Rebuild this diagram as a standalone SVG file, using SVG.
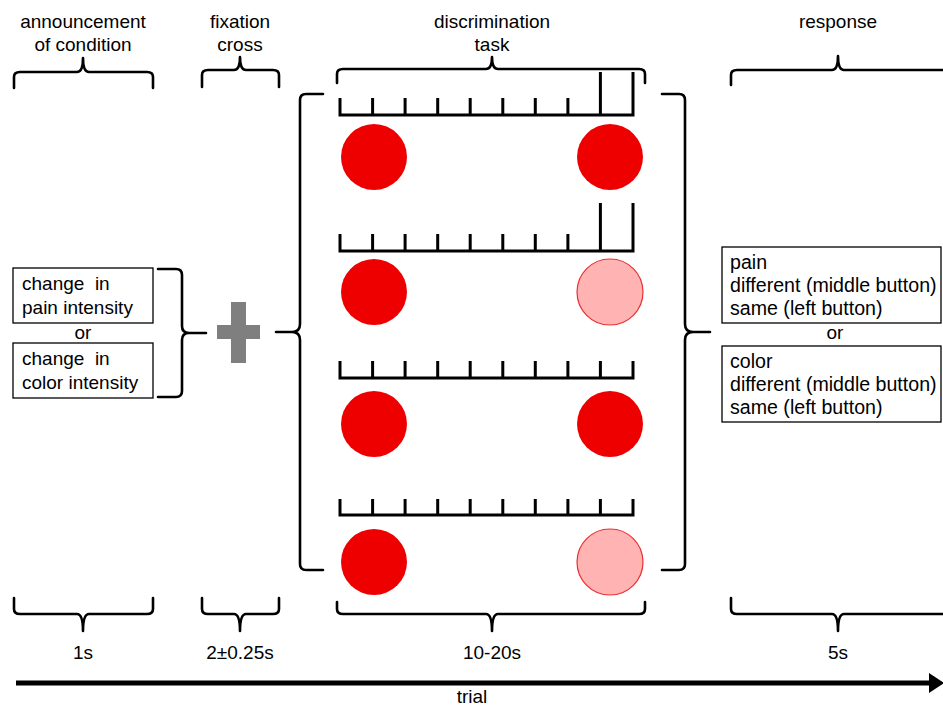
<svg xmlns="http://www.w3.org/2000/svg" width="943" height="706" viewBox="0 0 943 706">
<style>
.t{font-family:"Liberation Sans",Arial,sans-serif;font-size:19px;fill:#000}
.r{font-size:19.6px}
.m{text-anchor:middle}
.br{fill:none;stroke:#000;stroke-width:2.6;stroke-linecap:round;stroke-linejoin:round}
.ru{fill:none;stroke:#000;stroke-width:3;stroke-linecap:butt;stroke-linejoin:miter}
.box{fill:#fff;stroke:#000;stroke-width:1.3}
.dk{fill:#ee0000}
.lt{fill:#ffb3b3;stroke:#e83030;stroke-width:1.2}
</style>
<defs>
<marker id="ah" markerWidth="4" markerHeight="4" refX="0" refY="2" orient="auto" markerUnits="strokeWidth">
<path d="M0,0 L3,2 L0,4 Z" fill="#000"/>
</marker>
</defs>

<g id="labels-top">
<text class="t m" x="83" y="28">announcement</text>
<text class="t m" x="83" y="51">of condition</text>
<text class="t m" x="240" y="28">fixation</text>
<text class="t m" x="240" y="51">cross</text>
<text class="t m" x="492" y="28">discrimination</text>
<text class="t m" x="492" y="51">task</text>
<text class="t m" x="838" y="28">response</text>
</g>

<g id="brackets-top">
<path class="br" d="M14,88 V77 Q14,72 20,72 H77 Q83,72 83,58 Q83,72 89,72 H147 Q153,72 153,77 V88"/>
<path class="br" d="M202,87 V75 Q202,70 208,70 H234 Q240,70 240,57 Q240,70 246,70 H273 Q279,70 279,75 V87"/>
<path class="br" d="M337,83 V74 Q337,69 343,69 H486 Q492,69 492,57 Q492,69 498,69 H639 Q645,69 645,74 V83"/>
<path class="br" d="M731,85 V75 Q731,70 737,70 H832 Q838,70 838,56 Q838,70 844,70 H945"/>
</g>

<g id="brackets-bottom">
<path class="br" d="M14,598 V609 Q14,614 20,614 H77 Q83,614 83,631 Q83,614 89,614 H147 Q153,614 153,609 V598"/>
<path class="br" d="M202,598 V609 Q202,614 208,614 H234 Q240,614 240,631 Q240,614 246,614 H273 Q279,614 279,609 V598"/>
<path class="br" d="M337,602 V609 Q337,614 343,614 H486 Q492,614 492,631 Q492,614 498,614 H639 Q645,614 645,609 V602"/>
<path class="br" d="M731,598 V609 Q731,614 737,614 H832 Q838,614 838,631 Q838,614 844,614 H945"/>
</g>

<g id="labels-bottom">
<text class="t m" x="83" y="659">1s</text>
<text class="t m" x="240" y="659">2±0.25s</text>
<text class="t m" x="492" y="659">10-20s</text>
<text class="t m" x="838" y="659">5s</text>
<text class="t m" x="472" y="703">trial</text>
</g>

<g id="condition">
<rect class="box" x="13" y="268" width="140" height="55"/>
<text class="t" x="22" y="290" xml:space="preserve">change  in</text>
<text class="t" x="22" y="314">pain intensity</text>
<text class="t m" x="83" y="339">or</text>
<rect class="box" x="13" y="343" width="140" height="55"/>
<text class="t" x="22" y="365" xml:space="preserve">change  in</text>
<text class="t" x="22" y="389">color intensity</text>
</g>

<g id="fixation">
<rect x="217" y="325" width="43" height="14" fill="#7f7f7f"/>
<rect x="231" y="302" width="15" height="61" fill="#7f7f7f"/>
</g>

<g id="task">
<path class="ru" d="M340,98 V115 H633 V72 M372.6,98 V115 M405.1,98 V115 M437.7,98 V115 M470.2,98 V115 M502.8,98 V115 M535.3,98 V115 M567.9,98 V115 M600.4,72 V115"/>
<circle class="dk" cx="374" cy="157" r="33"/>
<circle class="dk" cx="610" cy="157" r="33"/>
<path class="ru" d="M340,234 V251 H633 V203 M372.6,234 V251 M405.1,234 V251 M437.7,234 V251 M470.2,234 V251 M502.8,234 V251 M535.3,234 V251 M567.9,234 V251 M600.4,203 V251"/>
<circle class="dk" cx="374" cy="292" r="33"/>
<circle class="lt" cx="610" cy="292" r="33"/>
<path class="ru" d="M340,361 V378 H633 V361 M372.6,361 V378 M405.1,361 V378 M437.7,361 V378 M470.2,361 V378 M502.8,361 V378 M535.3,361 V378 M567.9,361 V378 M600.4,361 V378"/>
<circle class="dk" cx="374" cy="424" r="33"/>
<circle class="dk" cx="610" cy="424" r="33"/>
<path class="ru" d="M340,499 V515 H633 V499 M372.6,499 V515 M405.1,499 V515 M437.7,499 V515 M470.2,499 V515 M502.8,499 V515 M535.3,499 V515 M567.9,499 V515 M600.4,499 V515"/>
<circle class="dk" cx="374" cy="562" r="33"/>
<circle class="lt" cx="610" cy="562" r="33"/>
</g>

<g id="response">
<rect class="box" x="722" y="247" width="219" height="76"/>
<text class="t r" x="730" y="269">pain</text>
<text class="t r" x="730" y="292">different (middle button)</text>
<text class="t r" x="730" y="315">same (left button)</text>
<text class="t m" x="835" y="339">or</text>
<rect class="box" x="722" y="346" width="219" height="76"/>
<text class="t r" x="730" y="368">color</text>
<text class="t r" x="730" y="391">different (middle button)</text>
<text class="t r" x="730" y="414">same (left button)</text>
</g>

<g id="connectors">
<path class="br" d="M158,269 H176 Q182,269 182,275 V326 Q182,333 189,333 H206 M189,333 Q182,333 182,340 V391 Q182,397 176,397 H158"/>
<path class="br" d="M323,94 H306 Q300,94 300,100 V324 Q300,332 292,332 H276 M292,332 Q300,332 300,340 V564 Q300,570 306,570 H323"/>
<path class="br" d="M662,94 H679 Q685,94 685,100 V324 Q685,332 693,332 H710 M693,332 Q685,332 685,340 V564 Q685,570 679,570 H662"/>
<path d="M16,683 H929" stroke="#000" stroke-width="5" fill="none" marker-end="url(#ah)"/>
</g>
</svg>
